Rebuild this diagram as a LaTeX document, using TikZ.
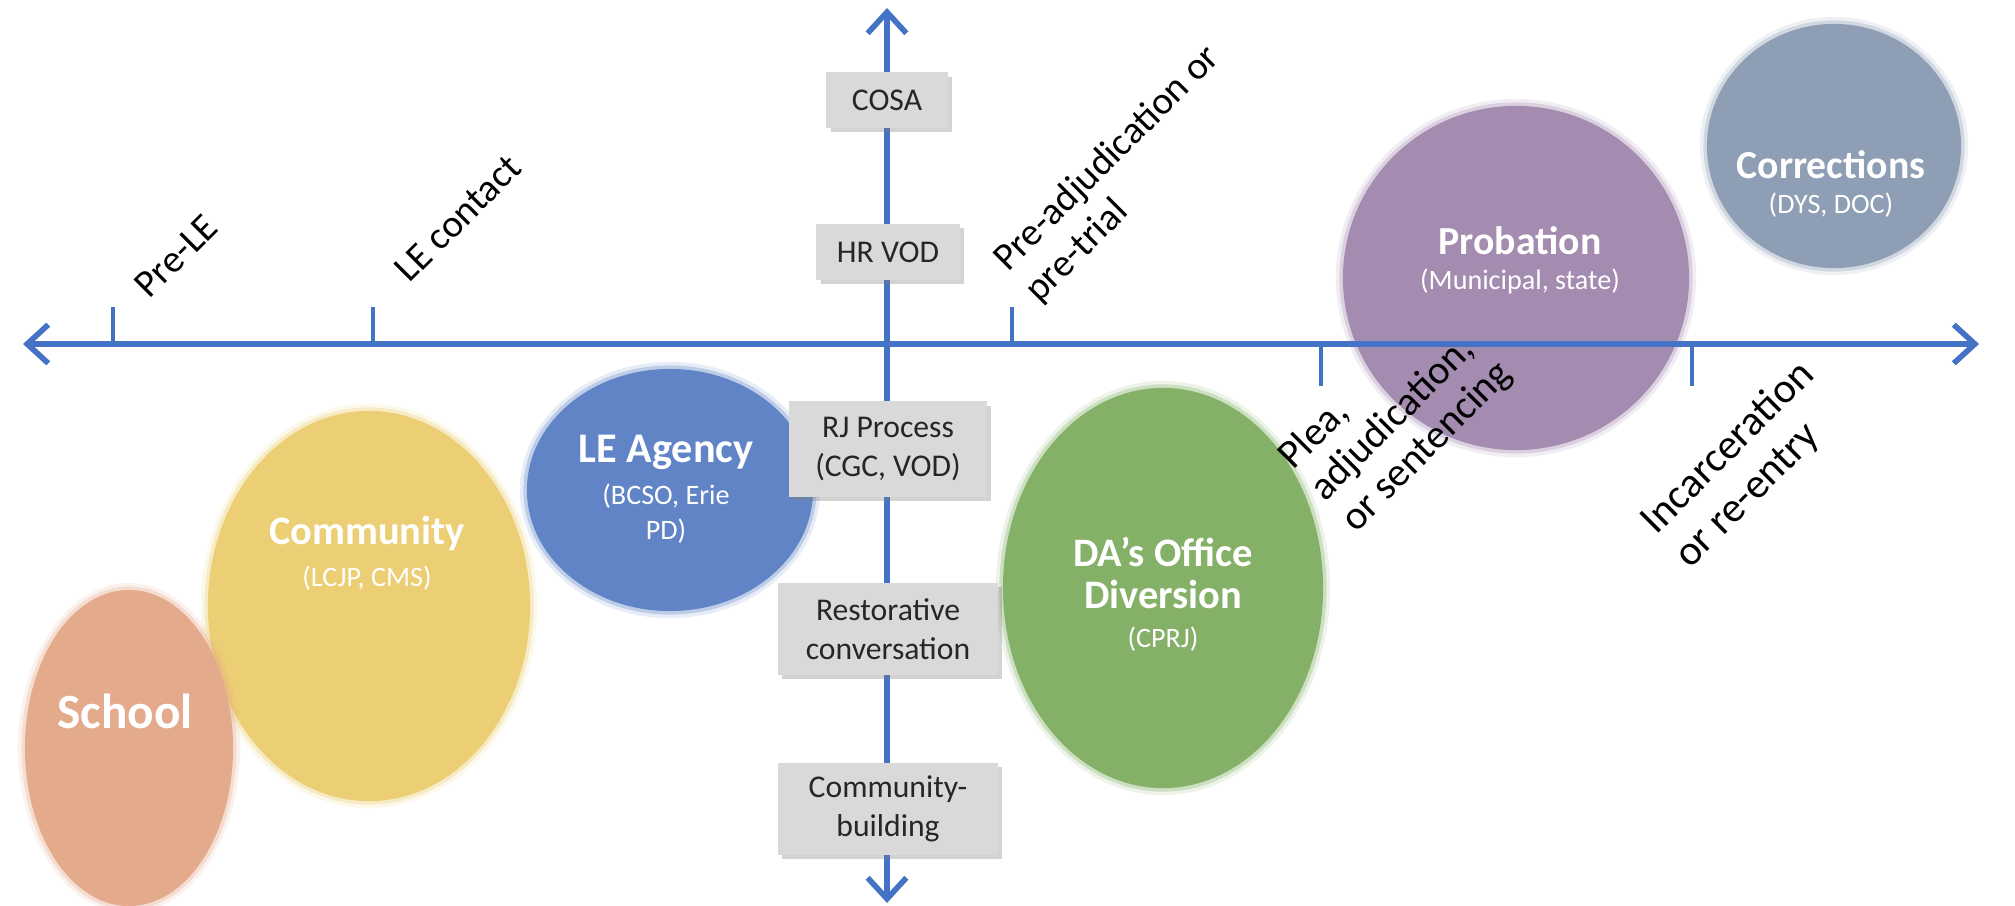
\documentclass[tikz,border=0pt]{standalone}
\usepackage{fontspec}
\setmainfont{Carlito}
\usetikzlibrary{shapes.geometric,shadows,arrows.meta}

\definecolor{axisblue}{HTML}{4472C4}
\definecolor{boxgray}{HTML}{D9D9D9}
\definecolor{schoolc}{HTML}{E4AA8C}
\definecolor{communityc}{HTML}{ECCE74}
\definecolor{agencyc}{HTML}{6084C5}
\definecolor{dac}{HTML}{84B068}
\definecolor{probationc}{HTML}{A48BB0}
\definecolor{correctionsc}{HTML}{8E9EB4}
\newcommand\stagesub[1]{{\mdseries\fontsize{8}{10}\selectfont #1}}

\begin{document}
\begin{tikzpicture}[x=0.01cm,y=-0.01cm,
    stage/.style={ellipse, inner sep=0pt, fill=#1,
      preaction={draw=#1, line width=4pt, draw opacity=.15},
      preaction={draw=#1, line width=2pt, draw opacity=.3}},
    stagetext/.style={text=white, align=center, font=\bfseries\fontsize{11.5}{12}\selectfont},
    practice/.style={fill=boxgray, text=black!85, align=center, inner sep=0pt,
      font=\fontsize{9}{11}\selectfont,
      drop shadow={shadow xshift=1.2pt, shadow yshift=-1.2pt, opacity=.35}},
    phase/.style={rotate=45, anchor=south west, align=left, inner sep=0pt,
      font=\fontsize{11}{12.5}\selectfont},
    axisline/.style={draw=axisblue, line width=1.6pt, >={Straight Barb[length=6pt,width=11pt]}},
    tickmark/.style={draw=axisblue, line width=1.4pt}]
  \useasboundingbox (0,0) rectangle (2015,906);
  % stages of the system
  \node[stage=communityc, minimum width=3.22cm, minimum height=3.9cm] (community) at (369,606) {};
  \node[stage=schoolc, minimum width=2.08cm, minimum height=3.16cm] (school) at (129,748) {};
  \node[stage=agencyc, minimum width=2.86cm, minimum height=2.42cm] (agency) at (670,490) {};
  \node[stage=dac, minimum width=3.2cm, minimum height=4cm] (daoffice) at (1163,588) {};
  \node[stage=probationc, minimum width=3.46cm, minimum height=3.44cm] (probation) at (1516,278) {};
  \node[stage=correctionsc, minimum width=2.54cm, minimum height=2.44cm] (corrections) at (1834,146) {};
  \node[stagetext, font=\bfseries\fontsize{14}{15}\selectfont] (schooltxt) at (125,711) {School};
  \node[stagetext] (communitytxt) at (367,553) {Community\\\stagesub{(LCJP, CMS)}};
  \node[stagetext, font=\bfseries\fontsize{12}{12}\selectfont] (agencytxt) at (666,489) {LE Agency\\\stagesub{(BCSO, Erie}\\[-2pt]\stagesub{PD)}};
  \node[stagetext] (datxt) at (1163,594) {DA’s Office\\Diversion\\[-1pt]\stagesub{(CPRJ)}};
  \node[stagetext, font=\bfseries\fontsize{11.3}{12}\selectfont] (probationtxt) at (1520,260) {Probation\\[-2pt]\stagesub{(Municipal, state)}};
  \node[stagetext, font=\bfseries\fontsize{11.3}{12}\selectfont] (correctionstxt) at (1831,184) {Corrections\\[-2pt]\stagesub{(DYS, DOC)}};
  % axes
  \coordinate (west) at (23,344); \coordinate (east) at (1979,344);
  \coordinate (north) at (887,8); \coordinate (south) at (887,903);
  \draw[axisline,<->] (west) -- (east);
  \draw[axisline,<->] (south) -- (north);
  \foreach \x in {113,373,1012} \draw[tickmark] (\x,344) -- (\x,307);
  \foreach \x in {1321,1692} \draw[tickmark] (\x,344) -- (\x,386);
  % practices along the vertical axis
  \node[practice, minimum width=1.21cm, minimum height=0.55cm] (cosa) at (887,100) {COSA};
  \node[practice, minimum width=1.43cm, minimum height=0.56cm] (hrvod) at (888,252) {HR VOD};
  \node[practice, minimum width=1.98cm, minimum height=0.95cm] (rjprocess) at (888,449) {RJ Process\\(CGC, VOD)};
  \node[practice, minimum width=2.2cm, minimum height=0.92cm] (restorative) at (888,629) {Restorative\\conversation};
  \node[practice, minimum width=2.2cm, minimum height=0.92cm] (building) at (888,809) {Community-\\building};
  % decision points
  \node[phase] (prele) at (150,301) {Pre-LE};
  \node[phase] (lecontact) at (410,285) {LE contact};
  \node[phase] (pretrial) at (1044,309) {Pre-adjudication or\\pre-trial};
  \node[phase, font=\fontsize{11.5}{12.5}\selectfont] (plea) at (1361,539) {Plea,\\adjudication,\\or sentencing};
  \node[phase, font=\fontsize{12}{13.5}\selectfont] (reentry) at (1695,575) {Incarceration\\or re-entry};
\end{tikzpicture}
\end{document}
